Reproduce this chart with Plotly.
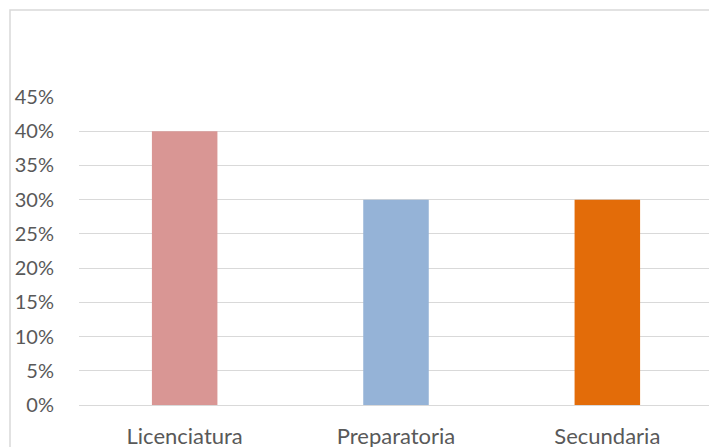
import plotly.graph_objects as go

categories = ["Licenciatura", "Preparatoria", "Secundaria"]
values = [0.40, 0.30, 0.30]
colors = ["#D99694", "#95B3D7", "#E36C09"]
y_ticks = [0, 0.05, 0.10, 0.15, 0.20, 0.25, 0.30, 0.35, 0.40, 0.45]

OFF = 8  # page body margin in the browser
W, H = 717 - OFF, 447 - OFF
L, R, T, B = 79 - OFF, 4, 97 - OFF, 42
pw, ph = W - L - R, H - T - B

fig = go.Figure(go.Bar(x=categories, y=values, marker_color=colors, marker_line_width=0))

fig.update_layout(
    width=W, height=H,
    margin=dict(l=L, r=R, t=T, b=B),
    paper_bgcolor="white", plot_bgcolor="white",
    bargap=0.69,
    showlegend=False,
    font=dict(family="Lato, Open Sans, sans-serif", color="#595959", size=20),
    xaxis=dict(showgrid=False, showline=False, ticks="", ticklabelstandoff=16,
               automargin=False, tickfont=dict(size=22)),
    yaxis=dict(range=[0, 0.45], tickvals=y_ticks, tickformat=".0%",
               showgrid=True, gridcolor="#D9D9D9", gridwidth=1,
               zeroline=True, zerolinecolor="#D9D9D9", zerolinewidth=1,
               showline=False, ticks="", ticklabelstandoff=24,
               automargin=False, tickfont=dict(size=20)),
    shapes=[dict(type="rect", xref="paper", yref="paper",
                 x0=(10 - OFF - L) / pw, x1=(W + 20 - L) / pw,
                 y0=(H - B - (H + 20)) / ph, y1=(H - B - (10 - OFF)) / ph,
                 line=dict(color="#D9D9D9", width=1.5), layer="below")],
)

fig.write_html("out.html")
